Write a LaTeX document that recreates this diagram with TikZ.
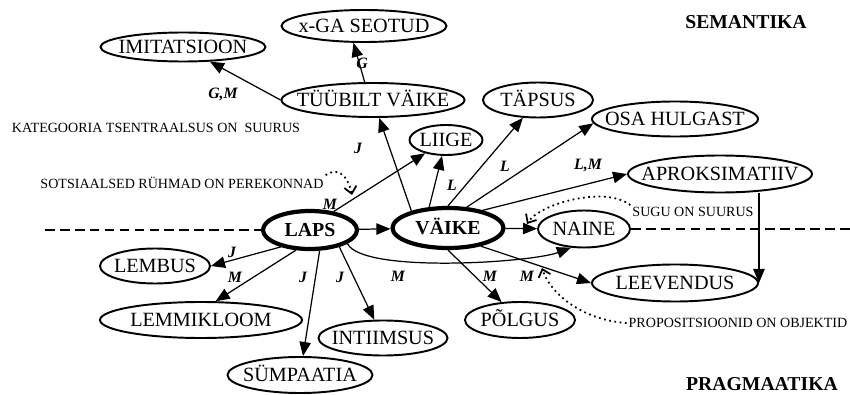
\documentclass[tikz,border=0pt]{standalone}
\usepackage{fontspec}
\setmainfont{Liberation Serif}
\usetikzlibrary{shapes.geometric, arrows.meta}

\begin{document}
\begin{tikzpicture}[x=0.02cm, y=-0.02cm, font=\fontsize{11.5}{13}\selectfont]
	\tikzset{oval/.style 2 args={ellipse, draw, line width=1.1pt, inner sep=0pt, text height=7.6pt, text depth=0pt, minimum width=#1*0.02cm, minimum height=#2*0.02cm}}
	\tikzset{core/.style={line width=2.4pt, font=\fontsize{11.3}{13}\selectfont\bfseries}}
	\tikzset{link/.style={-{Triangle[length=8pt, width=6.5pt]}, line width=0.7pt}}
	\tikzset{hint/.style={dotted, line width=1pt, -{Straight Barb[length=4pt, width=7pt]}}}
	\tikzset{tag/.style={font=\fontsize{9}{10}\selectfont\bfseries\itshape}}
	\tikzset{note/.style={inner sep=1pt, font=\fontsize{8}{9}\selectfont}}
	\tikzset{side/.style={font=\fontsize{11.2}{13}\selectfont\bfseries}}
	\useasboundingbox (0,0) rectangle (850,395);

	\node [oval={165}{29}] (imit) at (183,47) {\makebox[0pt]{IMITATSIOON}};
	\node [oval={165}{32}] (xga) at (364,26) {\makebox[0pt]{x-GA SEOTUD}};
	\node [oval={183}{34}] (tyyb) at (373,100) {\makebox[0pt]{TÜÜBILT VÄIKE}};
	\node [oval={73}{30}] (liige) at (446,140) {\makebox[0pt]{LIIGE}};
	\node [oval={110}{35}] (tapsus) at (538,100) {\makebox[0pt]{TÄPSUS}};
	\node [oval={166}{35}] (osa) at (675,119) {\makebox[0pt]{OSA HULGAST}};
	\node [oval={184}{37}] (aprok) at (720,174) {\makebox[0pt]{APROKSIMATIIV}};
	\node [oval={92}{37}] (naine) at (584,229) {\makebox[0pt]{NAINE}};
	\node [oval={166}{37}] (leev) at (675,283) {\makebox[0pt]{LEEVENDUS}};
	\node [oval={110}{36}] (polgus) at (520,320) {\makebox[0pt]{PÕLGUS}};
	\node [oval={111}{40}, core] (vaike) at (448,228) {\makebox[0pt]{VÄIKE}};
	\node [oval={94}{38}, core] (laps) at (310,230) {\makebox[0pt]{LAPS}};
	\node [oval={110}{35}] (lembus) at (155,266) {\makebox[0pt]{LEMBUS}};
	\node [oval={202}{36}] (lemmik) at (201,320) {\makebox[0pt]{LEMMIKLOOM}};
	\node [oval={129}{35}] (intiim) at (383,338) {\makebox[0pt]{INTIIMSUS}};
	\node [oval={145}{36}] (symp) at (300,375) {\makebox[0pt]{SÜMPAATIA}};

	\node [side] (sem) at (746,22) {SEMANTIKA};
	\node [side] (prag) at (762,384) {PRAGMAATIKA};
	\node [note] (kat) at (156,128) {KATEGOORIA TSENTRAALSUS ON\ \ SUURUS};
	\node [note] (sots) at (182,183) {SOTSIAALSED RÜHMAD ON PEREKONNAD};
	\node [note] (sugu) at (693,212) {SUGU ON SUURUS};
	\node [note] (prop) at (738,323) {PROPOSITSIOONID ON OBJEKTID};

	\coordinate (lend) at (45,230);
	\coordinate (rend) at (850,229);
	\draw [dash pattern=on 5.5pt off 3pt, line width=0.6pt] (lend) -- (laps.west);
	\draw [dash pattern=on 5.5pt off 3pt, line width=0.6pt] (naine.east) -- (rend);

	\draw [link] (laps) -- (vaike);
	\draw [link] (vaike) -- (naine);
	\draw [link] (vaike.155) -- (tyyb);
	\draw [link] (vaike.132) -- (liige);
	\draw [link] (vaike.90) -- (tapsus);
	\draw [link] (vaike.48) -- (osa.183);
	\draw [link] (vaike.27) -- (aprok.west);
	\draw [link] (vaike.331) -- (leev.west);
	\draw [link] (vaike.south) -- (polgus);
	\draw [link] (laps.38) -- (liige);
	\draw [link] (laps.210) -- (lembus.east);
	\draw [link] (laps.235) -- (lemmik.52);
	\draw [link] (laps.295) -- (symp);
	\draw [link] (laps.330) -- (intiim);
	\draw [link] (laps.340) .. controls +(15,30) and +(-40,15) .. (naine.235);
	\draw [link] (aprok.south -| leev.east) -- (leev.east);
	\draw [link] (tyyb.west) -- (imit);
	\draw [link] (tyyb.115) -- (xga.238);

	\coordinate (sotsend) at (352,195);
	\coordinate (suguend) at (527,224);
	\coordinate (propend) at (542,268);
	\draw [hint] (sots.north east) .. controls +(15,-10) and +(-3,-15) .. (sotsend);
	\draw [hint] (sugu.north west) .. controls +(-25,-20) and +(12,-20) .. (suguend);
	\draw [hint] (prop.west) .. controls +(-45,-3) and +(8,25) .. (propend);

	\node [tag] (gm) at (223,94) {G,M};
	\node [tag] (g) at (362,63) {G};
	\node [tag] (j1) at (358,148) {J};
	\node [tag] (m1) at (330,204) {M};
	\node [tag] (l1) at (452,185) {L};
	\node [tag] (l2) at (505,166) {L};
	\node [tag] (lm) at (588,166) {L,M};
	\node [tag] (m2) at (398,276) {M};
	\node [tag] (m3) at (490,276) {M};
	\node [tag] (m4) at (527,276) {M};
	\node [tag] (j2) at (232,252) {J};
	\node [tag] (m5) at (235,277) {M};
	\node [tag] (j3) at (303,277) {J};
	\node [tag] (j4) at (340,277) {J};
\end{tikzpicture}
\end{document}
